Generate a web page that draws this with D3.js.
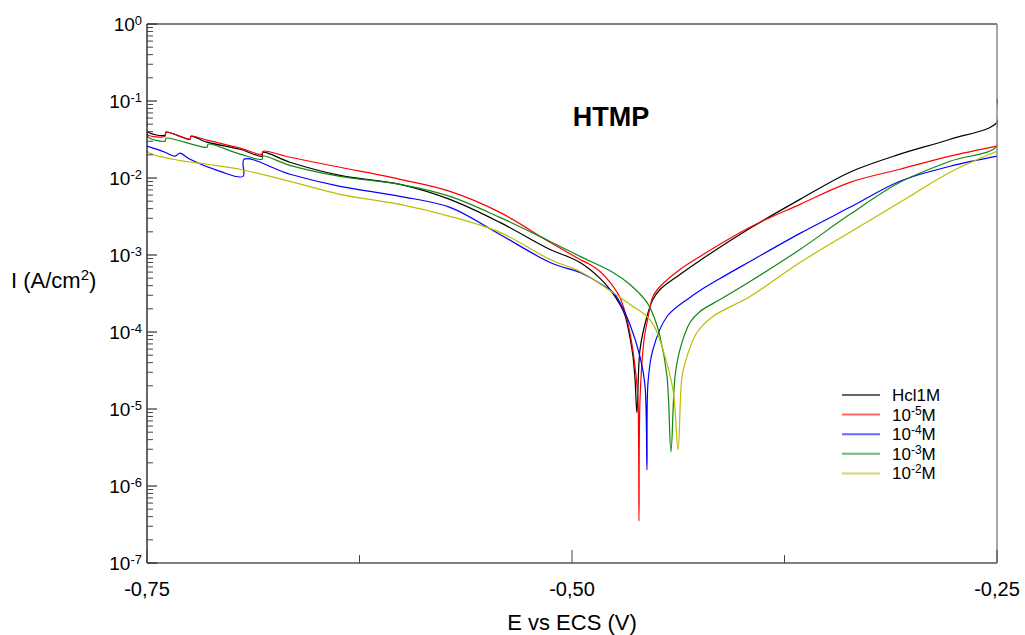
<!DOCTYPE html>
<html>
<head>
<meta charset="utf-8">
<script src="https://cdn.jsdelivr.net/npm/d3@7"></script>
<style>
  body { margin: 0; background: #fff; }
  svg { display: block; }
  text { font-family: "Liberation Sans", Arial, Helvetica, sans-serif; fill: #000; }
</style>
</head>
<body>
<svg id="chart" width="1025" height="635"></svg>
<script>
// Polarisation curves: potential E (V vs ECS) and current density I (A/cm²)
const hcl1M = [
  [-0.7500, 6.35e-2], [-0.7500, 4.05e-2], [-0.7394, 3.60e-2], [-0.7388, 3.94e-2],
  [-0.7247, 3.19e-2], [-0.7241, 3.49e-2], [-0.7147, 2.92e-2], [-0.6953, 2.36e-2],
  [-0.6824, 1.92e-2], [-0.6818, 2.16e-2], [-0.6659, 1.60e-2], [-0.6365, 1.08e-2],
  [-0.6012, 8.28e-3], [-0.5718, 5.28e-3], [-0.5424, 2.65e-3], [-0.5129, 1.18e-3],
  [-0.5012, 9.30e-4], [-0.4953, 8.00e-4], [-0.4894, 6.49e-4], [-0.4835, 4.96e-4],
  [-0.4776, 3.56e-4], [-0.4718, 2.28e-4], [-0.4688, 1.64e-4], [-0.4659, 8.47e-5],
  [-0.4641, 4.79e-5], [-0.4629, 2.41e-5], [-0.4618, 8.95e-6], [-0.4600, 5.91e-5],
  [-0.4559, 1.59e-4], [-0.4524, 2.64e-4], [-0.4482, 3.56e-4], [-0.4365, 5.58e-4],
  [-0.4247, 8.50e-4], [-0.3953, 2.22e-3], [-0.3659, 5.28e-3], [-0.3365, 1.19e-2],
  [-0.3071, 2.04e-2], [-0.2776, 3.19e-2], [-0.2500, 5.31e-2], [-0.2500, 1.06e-1]
];
const htmp1e5 = [
  [-0.7500, 5.31e-2], [-0.7500, 3.71e-2], [-0.7394, 3.49e-2], [-0.7388, 3.94e-2],
  [-0.7247, 3.19e-2], [-0.7241, 3.49e-2], [-0.7147, 3.10e-2], [-0.6953, 2.44e-2],
  [-0.6824, 2.04e-2], [-0.6818, 2.23e-2], [-0.6659, 1.86e-2], [-0.6365, 1.38e-2],
  [-0.6012, 9.62e-3], [-0.5718, 6.71e-3], [-0.5424, 3.58e-3], [-0.5129, 1.46e-3],
  [-0.4953, 8.75e-4], [-0.4894, 7.53e-4], [-0.4835, 6.11e-4], [-0.4776, 4.40e-4],
  [-0.4718, 2.81e-4], [-0.4676, 1.45e-4], [-0.4647, 6.87e-5], [-0.4624, 2.79e-5],
  [-0.4612, 1.32e-5], [-0.4606, 3.52e-7], [-0.4600, 1.32e-5], [-0.4576, 7.97e-5],
  [-0.4553, 1.54e-4], [-0.4524, 2.89e-4], [-0.4482, 3.90e-4], [-0.4365, 6.49e-4],
  [-0.4247, 9.59e-4], [-0.3953, 2.29e-3], [-0.3659, 4.55e-3], [-0.3365, 8.79e-3],
  [-0.3071, 1.30e-2], [-0.2776, 1.92e-2], [-0.2500, 2.59e-2]
];
const htmp1e4 = [
  [-0.7500, 2.59e-2], [-0.7394, 2.16e-2], [-0.7335, 1.92e-2], [-0.7306, 2.10e-2],
  [-0.7247, 1.75e-2], [-0.7071, 1.22e-2], [-0.6935, 1.05e-2], [-0.6929, 1.75e-2],
  [-0.6659, 1.12e-2], [-0.6365, 7.80e-3], [-0.6012, 5.78e-3], [-0.5718, 4.16e-3],
  [-0.5424, 1.85e-3], [-0.5129, 8.00e-4], [-0.4953, 5.93e-4], [-0.4894, 5.11e-4],
  [-0.4835, 4.27e-4], [-0.4759, 3.26e-4], [-0.4718, 2.42e-4], [-0.4659, 1.25e-4],
  [-0.4600, 4.79e-5], [-0.4571, 2.07e-5], [-0.4559, 1.62e-6], [-0.4553, 2.20e-5],
  [-0.4524, 5.91e-5], [-0.4441, 1.59e-4], [-0.4306, 2.81e-4], [-0.4247, 3.46e-4],
  [-0.4129, 4.96e-4], [-0.3953, 8.25e-4], [-0.3659, 1.91e-3], [-0.3365, 4.16e-3],
  [-0.3071, 9.06e-3], [-0.2776, 1.42e-2], [-0.2500, 1.92e-2]
];
const htmp1e3 = [
  [-0.7500, 5.00e-2], [-0.7500, 3.49e-2], [-0.7394, 3.01e-2], [-0.7388, 3.29e-2],
  [-0.7147, 2.51e-2], [-0.7141, 2.75e-2], [-0.6953, 2.04e-2], [-0.6824, 1.75e-2],
  [-0.6818, 1.92e-2], [-0.6659, 1.46e-2], [-0.6365, 1.05e-2], [-0.6012, 8.28e-3],
  [-0.5718, 5.78e-3], [-0.5424, 3.08e-3], [-0.5129, 1.50e-3], [-0.4953, 9.59e-4],
  [-0.4759, 5.93e-4], [-0.4659, 4.14e-4], [-0.4559, 2.42e-4], [-0.4512, 1.45e-4],
  [-0.4482, 8.73e-5], [-0.4441, 2.63e-5], [-0.4418, 2.78e-6], [-0.4394, 2.63e-5],
  [-0.4365, 5.91e-5], [-0.4306, 1.33e-4], [-0.4247, 1.85e-4], [-0.4129, 2.64e-4],
  [-0.3953, 4.53e-4], [-0.3659, 1.18e-3], [-0.3365, 3.37e-3], [-0.3071, 8.79e-3],
  [-0.2776, 1.65e-2], [-0.2500, 2.59e-2], [-0.2500, 5.31e-2]
];
const htmp1e2 = [
  [-0.7500, 3.19e-2], [-0.7500, 2.23e-2], [-0.7347, 1.75e-2], [-0.7147, 1.51e-2],
  [-0.6953, 1.30e-2], [-0.6659, 9.06e-3], [-0.6365, 6.14e-3], [-0.6012, 4.55e-3],
  [-0.5718, 3.18e-3], [-0.5424, 1.97e-3], [-0.5129, 8.75e-4], [-0.4953, 6.11e-4],
  [-0.4759, 3.26e-4], [-0.4659, 2.28e-4], [-0.4559, 1.59e-4], [-0.4512, 1.14e-4],
  [-0.4465, 5.91e-5], [-0.4406, 1.78e-5], [-0.4376, 2.95e-6], [-0.4353, 2.63e-5],
  [-0.4324, 4.79e-5], [-0.4265, 9.84e-5], [-0.4171, 1.59e-4], [-0.3953, 2.89e-4],
  [-0.3659, 8.00e-4], [-0.3365, 1.97e-3], [-0.3071, 4.83e-3], [-0.2776, 1.19e-2],
  [-0.2500, 2.23e-2]
];

const seriesData = [hcl1M, htmp1e5, htmp1e4, htmp1e3, htmp1e2];
const seriesColors = ["#000000", "#ff0000", "#0000ff", "#118811", "#bcbc00"];
// legend label parts: main text, superscript, trailing text
const legendLabels = [
  ["Hcl1M", "", ""],
  ["10", "-5", "M"],
  ["10", "-4", "M"],
  ["10", "-3", "M"],
  ["10", "-2", "M"]
];
const xTickValues = [-0.75, -0.50, -0.25];
const xMinorValues = [-0.625, -0.375];
const yDecades = [0, -1, -2, -3, -4, -5, -6, -7];
const chartTitle = "HTMP";
const xTitle = "E vs ECS (V)";

const svg = d3.select("#chart");
const plotLeft = 147, plotRight = 997, plotTop = 24, plotBottom = 563;

const x = d3.scaleLinear().domain([-0.75, -0.25]).range([plotLeft, plotRight]);
const y = d3.scaleLog().domain([1e-7, 1]).range([plotBottom, plotTop]);

svg.append("defs").append("clipPath").attr("id", "plotClip")
  .append("rect").attr("x", plotLeft).attr("y", plotTop - 1)
  .attr("width", plotRight - plotLeft + 1).attr("height", plotBottom - plotTop + 1);

// curves (centripetal Catmull-Rom keeps the sharp minima without loops)
const line = d3.line()
  .x(d => x(d[0])).y(d => y(d[1]))
  .curve(d3.curveCatmullRom.alpha(0.5));
const curves = svg.append("g").attr("clip-path", "url(#plotClip)");
seriesData.forEach((s, i) => {
  curves.append("path").datum(s)
    .attr("d", line)
    .attr("fill", "none")
    .attr("stroke", seriesColors[i])
    .attr("stroke-width", 1.2)
    .attr("stroke-linejoin", "round");
});

// frame
const frame = svg.append("g");
frame.append("line").attr("x1", plotLeft).attr("x2", plotRight).attr("y1", plotTop).attr("y2", plotTop)
  .attr("stroke", "#000").attr("stroke-width", 1);
frame.append("line").attr("x1", plotRight).attr("x2", plotRight).attr("y1", plotTop).attr("y2", plotBottom)
  .attr("stroke", "#8a8a8a").attr("stroke-width", 1.5);
frame.append("line").attr("x1", plotLeft).attr("x2", plotRight).attr("y1", plotBottom).attr("y2", plotBottom)
  .attr("stroke", "#555").attr("stroke-width", 1.5);
frame.append("line").attr("x1", plotLeft).attr("x2", plotLeft).attr("y1", plotTop).attr("y2", plotBottom)
  .attr("stroke", "#000").attr("stroke-width", 1.2);

// y axis ticks (inward) and labels
const yAxis = svg.append("g");
yDecades.forEach(k => {
  const v = Math.pow(10, k);
  yAxis.append("line").attr("x1", plotLeft).attr("x2", plotLeft + 10)
    .attr("y1", y(v)).attr("y2", y(v)).attr("stroke", "#333").attr("stroke-width", 1.2);
  if (k < 0) {
    for (let m = 2; m <= 9; m++) {
      const yy = y(m * v);
      yAxis.append("line").attr("x1", plotLeft).attr("x2", plotLeft + 6)
        .attr("y1", yy).attr("y2", yy).attr("stroke", "#444").attr("stroke-width", 1);
    }
  }
  const t = yAxis.append("text").attr("x", 142).attr("y", y(v) + 7)
    .attr("text-anchor", "end").attr("font-size", 19);
  t.append("tspan").text("10");
  t.append("tspan").attr("dy", -6).attr("font-size", 13).text(String(k));
});

// x axis ticks (inward) and labels
const xAxis = svg.append("g");
xTickValues.forEach(v => {
  xAxis.append("line").attr("x1", x(v)).attr("x2", x(v))
    .attr("y1", plotBottom).attr("y2", plotBottom - 13).attr("stroke", "#444").attr("stroke-width", 1);
  xAxis.append("text").attr("x", x(v)).attr("y", 596)
    .attr("text-anchor", "middle").attr("font-size", 20)
    .text(v.toFixed(2).replace(".", ","));
});
xMinorValues.forEach(v => {
  xAxis.append("line").attr("x1", x(v)).attr("x2", x(v))
    .attr("y1", plotBottom).attr("y2", plotBottom - 8).attr("stroke", "#444").attr("stroke-width", 1);
});

// axis titles
svg.append("text").attr("x", (plotLeft + plotRight) / 2).attr("y", 630)
  .attr("text-anchor", "middle").attr("font-size", 22).text(xTitle);

const yt = svg.append("text").attr("x", 11).attr("y", 288).attr("font-size", 22);
yt.append("tspan").text("I (A/cm");
yt.append("tspan").attr("dy", -8).attr("font-size", 15).text("2");
yt.append("tspan").attr("dy", 8).text(")");

// chart title
svg.append("text").attr("x", 611).attr("y", 126)
  .attr("text-anchor", "middle").attr("font-size", 27).attr("font-weight", "bold")
  .text(chartTitle);

// legend
const legend = svg.append("g");
legendLabels.forEach((lab, i) => {
  const ly = 395 + i * 19.6;
  legend.append("line").attr("x1", 842).attr("x2", 880).attr("y1", ly).attr("y2", ly)
    .attr("stroke", seriesColors[i]).attr("stroke-width", 2).attr("stroke-opacity", 0.6);
  const t = legend.append("text").attr("x", 892).attr("y", ly + 6).attr("font-size", 17);
  t.append("tspan").text(lab[0]);
  if (lab[1]) {
    t.append("tspan").attr("dy", -6).attr("font-size", 12).text(lab[1]);
    t.append("tspan").attr("dy", 6).text(lab[2]);
  }
});
</script>
</body>
</html>
